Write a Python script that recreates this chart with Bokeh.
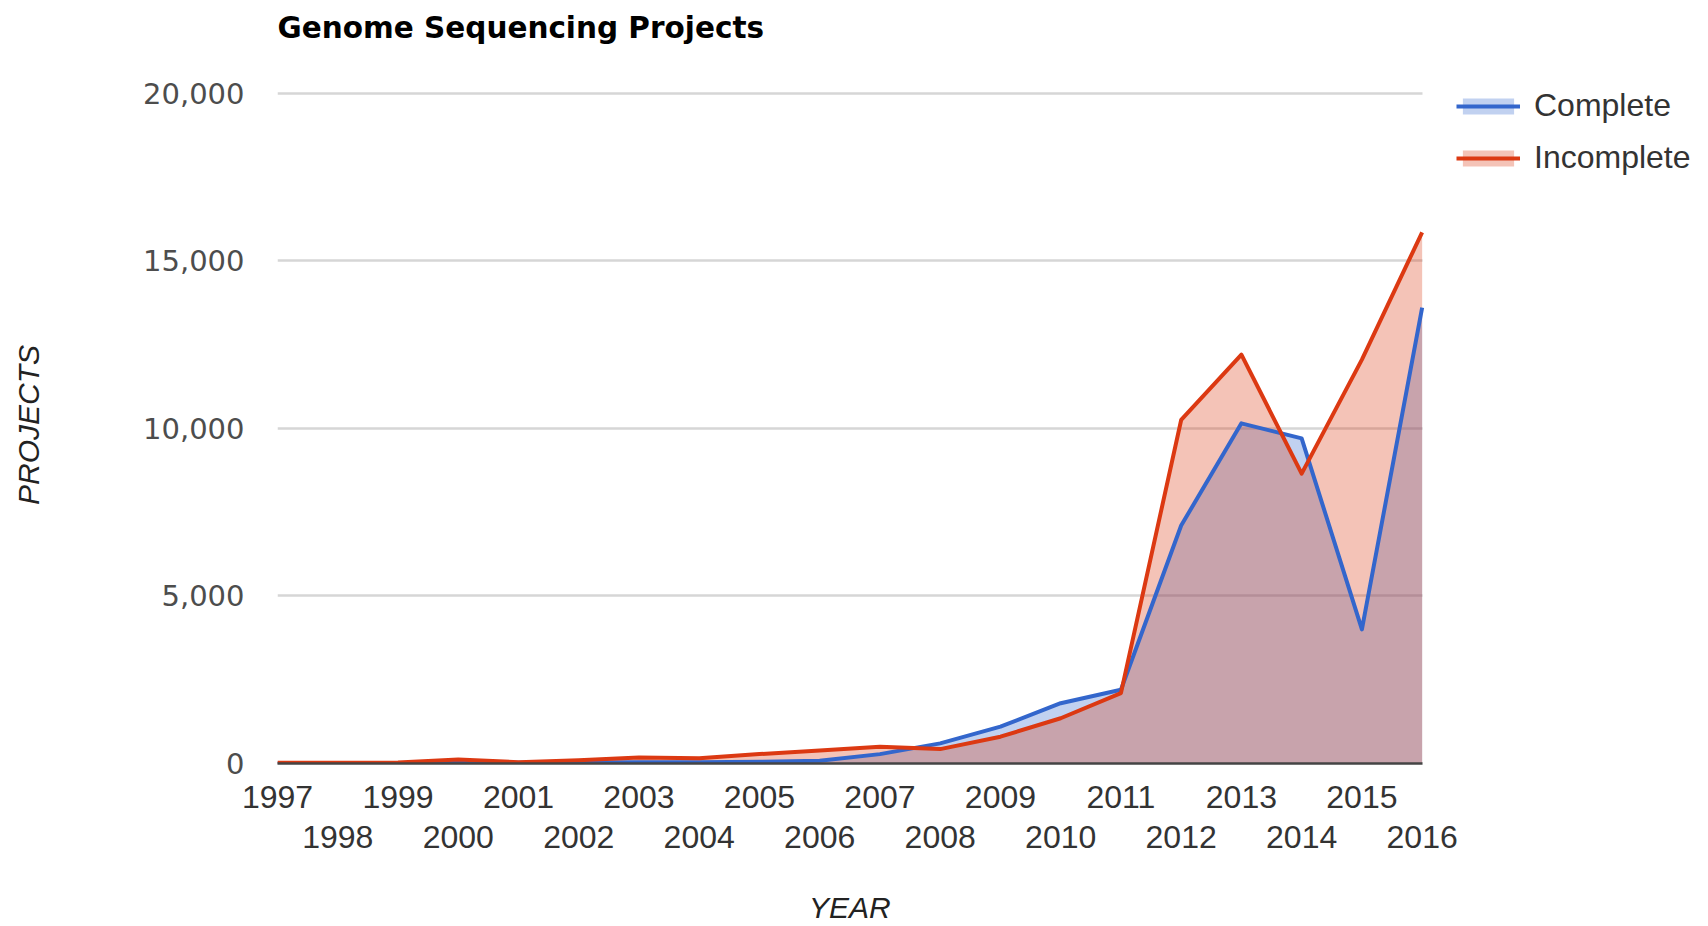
from bokeh.plotting import figure
from bokeh.models import (Range1d, FixedTicker, LinearAxis, NumeralTickFormatter,
                          Legend, LegendItem, ColumnDataSource)
from bokeh.embed import file_html
from bokeh.resources import INLINE

# ---- data ----
years = list(range(1997, 2017))
complete = [10, 10, 15, 20, 20, 30, 40, 40, 50, 80, 280, 600, 1100, 1800, 2200,
            7100, 10150, 9700, 4000, 13600]
incomplete = [20, 20, 30, 120, 40, 100, 180, 160, 280, 390, 500, 430, 800, 1350, 2100,
              10250, 12200, 8650, 12050, 15850]
y_ticks = [0, 5000, 10000, 15000, 20000]
row1_years = [y for y in years if y % 2 == 1]
row2_years = [y for y in years if y % 2 == 0]
series_names = ["Complete", "Incomplete"]
title_text = "Genome Sequencing Projects"
x_title = "YEAR"
y_title = "PROJECTS"

BLUE = "#3366cc"
RED = "#dc3912"

# The frame is widened to the right so that the legend (beside the data area) lies
# inside the drawable frame; grid lines and the x axis are bounded to the data years.
X_END = 2020.72
Y_END = 20200
x_mid = (years[0] + years[-1]) / 2

src = ColumnDataSource(dict(year=years, complete=complete, incomplete=incomplete,
                            base=[0] * len(years)))

W, H = 1708, 926
p = figure(width=W, height=H, output_backend="svg", toolbar_location=None,
           x_range=Range1d(years[0], X_END),
           y_range=Range1d(y_ticks[0], Y_END),
           min_border_left=277, min_border_right=2, min_border_top=86,
           min_border_bottom=162)
p.outline_line_color = None
p.background_fill_color = "white"
p.border_fill_color = "white"

# title
p.title.text = title_text
p.title.text_font = "DejaVu Sans"
p.title.text_font_style = "bold"
p.title.text_font_size = "29.5px"
p.title.text_color = "#000000"
p.title.align = "left"
p.title.standoff = 10
p.title.offset = 0

# empty band between the title and the plotting area (one unlabeled, undrawn tick)
band = LinearAxis(ticker=FixedTicker(ticks=[years[0]]), axis_line_color=None,
                  major_tick_line_color=None, minor_tick_line_color=None,
                  major_tick_in=0, major_tick_out=37, major_label_standoff=0,
                  major_label_text_font_size="1px",
                  major_label_overrides={years[0]: ""})
p.add_layout(band, "above")

# areas then lines
a1 = p.varea(x="year", y1="base", y2="complete", source=src, fill_color=BLUE, fill_alpha=0.3)
a2 = p.varea(x="year", y1="base", y2="incomplete", source=src, fill_color=RED, fill_alpha=0.3)
l1 = p.line(x="year", y="complete", source=src, line_color=BLUE, line_width=4,
            line_join="round")
l2 = p.line(x="year", y="incomplete", source=src, line_color=RED, line_width=4,
            line_join="round")

# grid
p.xgrid.visible = False
p.ygrid.ticker = FixedTicker(ticks=y_ticks)
p.ygrid.cross_bounds = (years[0], years[-1])
p.ygrid.grid_line_color = "#d6d6d6"
p.ygrid.grid_line_width = 2.5

# y axis
ya = p.left[0]
ya.ticker = FixedTicker(ticks=y_ticks)
ya.formatter = NumeralTickFormatter(format="0,0")
ya.axis_line_color = None
ya.major_tick_line_color = None
ya.minor_tick_line_color = None
ya.major_label_standoff = 27
ya.major_label_text_font = "DejaVu Sans"
ya.major_label_text_font_size = "29px"
ya.major_label_text_color = "#4d4d4d"
ya.axis_label = y_title
ya.axis_label_text_font = "Liberation Sans"
ya.axis_label_text_font_style = "italic"
ya.axis_label_text_font_size = "30px"
ya.axis_label_text_color = "#222222"
ya.axis_label_standoff = 95

# x axis, row 1 (odd years)
xa = p.below[0]
xa.ticker = FixedTicker(ticks=row1_years)
xa.bounds = (years[0], years[-1])
xa.major_label_overrides = {y: str(y) for y in row1_years}
xa.axis_line_color = "#444444"
xa.axis_line_width = 2.5
xa.major_tick_line_color = None
xa.minor_tick_line_color = None
xa.major_label_standoff = 16
xa.major_label_text_font = "Liberation Sans"
xa.major_label_text_font_size = "32px"
xa.major_label_text_color = "#333333"

# x axis, row 2 (even years)
xb = LinearAxis(ticker=FixedTicker(ticks=row2_years), bounds=(years[0], years[-1]))
xb.major_label_overrides = {y: str(y) for y in row2_years}
xb.axis_line_color = None
xb.major_tick_line_color = None
xb.minor_tick_line_color = None
xb.major_label_standoff = 9
xb.major_label_text_font = "Liberation Sans"
xb.major_label_text_font_size = "32px"
xb.major_label_text_color = "#333333"
p.add_layout(xb, "below")

# x axis title, centred under the data years
xc = LinearAxis(ticker=FixedTicker(ticks=[x_mid]), bounds=(years[0], years[-1]))
xc.major_label_overrides = {x_mid: x_title}
xc.axis_line_color = None
xc.major_tick_line_color = None
xc.minor_tick_line_color = None
xc.major_tick_in = 0
xc.major_tick_out = 0
xc.major_label_standoff = 40
xc.major_label_text_font = "Liberation Sans"
xc.major_label_text_font_style = "italic"
xc.major_label_text_font_size = "30px"
xc.major_label_text_color = "#222222"
p.add_layout(xc, "below")

# legend
legend = Legend(items=[LegendItem(label=series_names[0], renderers=[a1, l1]),
                       LegendItem(label=series_names[1], renderers=[a2, l2])],
                location=(1179, 587))
legend.label_text_font = "Liberation Sans"
legend.label_text_font_size = "32px"
legend.label_text_color = "#333333"
legend.label_height = 36
legend.glyph_width = 64
legend.glyph_height = 20
legend.label_standoff = 14
legend.spacing = 15
legend.padding = 0
legend.margin = 0
legend.border_line_alpha = 0
legend.background_fill_alpha = 0
p.add_layout(legend)

open("out.html", "w").write(file_html(p, INLINE))
